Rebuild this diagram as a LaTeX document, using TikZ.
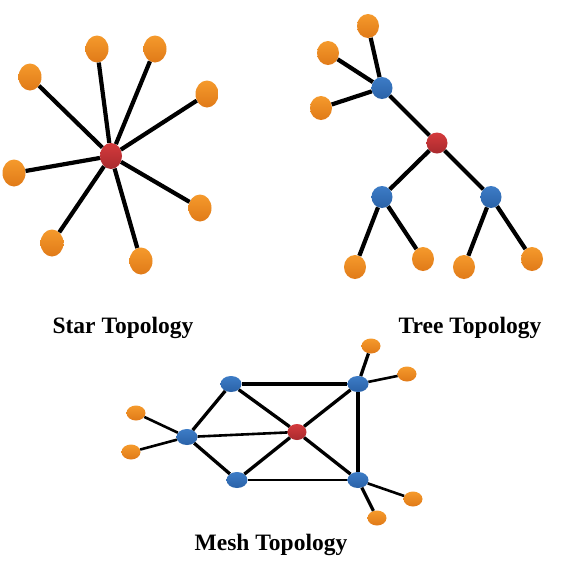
\documentclass[tikz,border=0pt]{standalone}
\usepackage{fontspec}
\setmainfont{Liberation Serif}
\usetikzlibrary{shapes.geometric}
\definecolor{orn}{HTML}{F59A2C}
\definecolor{ornd}{HTML}{E07A18}
\definecolor{blu}{HTML}{3D7CC6}
\definecolor{blud}{HTML}{2A62A8}
\definecolor{rd}{HTML}{D43A3C}
\definecolor{rdd}{HTML}{A92A2E}
\tikzset{
  dev/.style={ellipse, inner sep=0pt, draw=none},
  onode/.style={dev, top color=orn, bottom color=ornd, minimum width=23pt, minimum height=27pt},
  rnode/.style={dev, top color=rd, bottom color=rdd, minimum width=22pt, minimum height=26pt},
  tonode/.style={dev, top color=orn, bottom color=ornd, minimum width=22pt, minimum height=24pt},
  tbnode/.style={dev, top color=blu, bottom color=blud, minimum width=21pt, minimum height=22pt},
  trnode/.style={dev, top color=rd, bottom color=rdd, minimum width=21pt, minimum height=21pt},
  monode/.style={dev, top color=orn, bottom color=ornd, minimum width=19pt, minimum height=15pt},
  mbnode/.style={dev, top color=blu, bottom color=blud, minimum width=21pt, minimum height=16pt},
  mrnode/.style={dev, top color=rd, bottom color=rdd, minimum width=19pt, minimum height=16pt},
  link/.style={line width=4.2pt, black},
  mlink/.style={line width=3.3pt, black},
  thin/.style={line width=2.6pt, black},
  title/.style={anchor=base, font=\fontsize{23.5}{26}\selectfont\bfseries, inner sep=0pt}
}
\begin{document}
\begin{tikzpicture}[x=1pt,y=-1pt]
\useasboundingbox (0,0) rectangle (566,566);
\fill[white] (0,0) rectangle (566,566);
% Star
\node[rnode] (sc) at (111,156) {};
\node[onode] (s1) at (30,77) {};
\node[onode] (s2) at (97,49) {};
\node[onode] (s3) at (155,49) {};
\node[onode] (s4) at (207,94) {};
\node[onode] (s5) at (14,173) {};
\node[onode] (s6) at (200,208) {};
\node[onode] (s7) at (52,243) {};
\node[onode] (s8) at (141,261) {};
\foreach \n in {s1,s2,s3,s4,s5,s6,s7,s8} \draw[link] (sc) -- (\n);
% Tree
\node[trnode] (tr) at (437,143) {};
\node[tbnode] (tb1) at (382,88) {};
\node[tbnode] (tb2) at (382,197) {};
\node[tbnode] (tb3) at (491,197) {};
\node[tonode] (to1) at (368,26) {};
\node[tonode] (to2) at (328,53) {};
\node[tonode] (to3) at (321,108) {};
\node[tonode] (to4) at (355,267) {};
\node[tonode] (to5) at (423,259) {};
\node[tonode] (to6) at (464,267) {};
\node[tonode] (to7) at (532,259) {};
\draw[link] (tr) -- (tb1);
\draw[link] (tr) -- (tb2);
\draw[link] (tr) -- (tb3);
\draw[link] (tb1) -- (to1);
\draw[link] (tb1) -- (to2);
\draw[link] (tb1) -- (to3);
\draw[link] (tb2) -- (to4);
\draw[link] (tb2) -- (to5);
\draw[link] (tb3) -- (to6);
\draw[link] (tb3) -- (to7);
% Mesh
\node[mrnode] (mr) at (297,432) {};
\node[mbnode] (m1) at (231,384) {};
\node[mbnode] (m2) at (358,384) {};
\node[mbnode] (m3) at (187,437) {};
\node[mbnode] (m4) at (237,480) {};
\node[mbnode] (m5) at (358,480) {};
\node[monode] (mo1) at (371,346) {};
\node[monode] (mo2) at (407,374) {};
\node[monode] (mo3) at (136,413) {};
\node[monode] (mo4) at (131,452) {};
\node[monode] (mo5) at (413,499) {};
\node[monode] (mo6) at (377,518) {};
\draw[mlink] (m1) -- (m2);
\draw[mlink] (m1) -- (m3);
\draw[mlink] (m1) -- (mr);
\draw[mlink] (m2) -- (mr);
\draw[mlink] (m2) -- (m5);
\draw[thin] (m3) -- (mr);
\draw[mlink] (m3) -- (m4);
\draw[mlink] (m4) -- (mr);
\draw[thin] (m4) -- (m5);
\draw[mlink] (mr) -- (m5);
\draw[mlink] (m2) -- (mo1);
\draw[thin] (m2) -- (mo2);
\draw[thin] (m3) -- (mo3);
\draw[thin] (m3) -- (mo4);
\draw[thin] (m5) -- (mo5);
\draw[mlink] (m5) -- (mo6);
% Titles
\node[title] (t1) at (123,333) {Star Topology};
\node[title] (t2) at (470,333) {Tree Topology};
\node[title] (t3) at (271,550) {Mesh Topology};
\end{tikzpicture}
\end{document}
